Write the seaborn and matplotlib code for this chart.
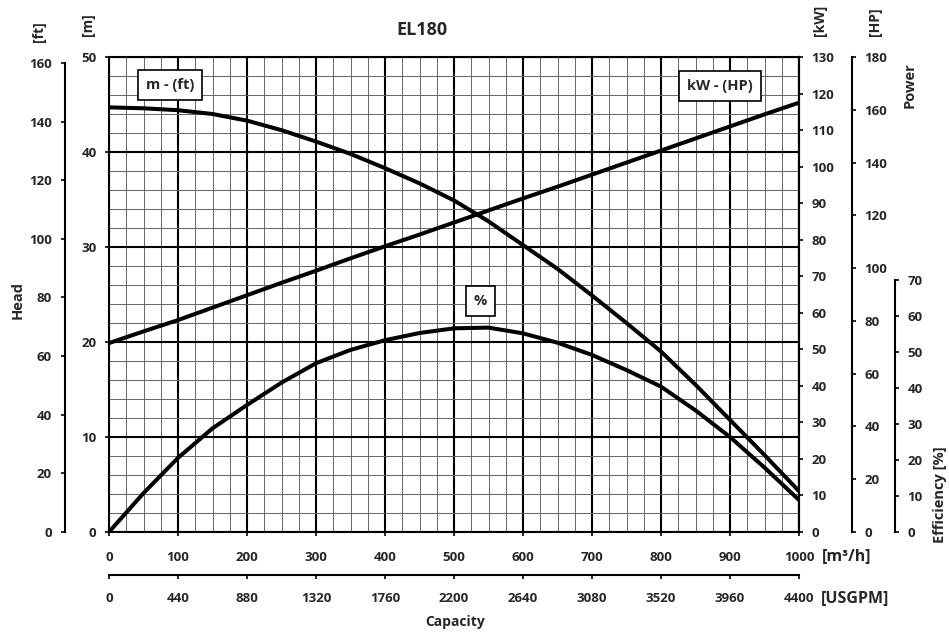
import numpy as np
import pandas as pd
import matplotlib
matplotlib.use("Agg")
import matplotlib.pyplot as plt
import seaborn as sns

# values (capacity in m3/h)
flow = [0, 50, 100, 150, 200, 250, 300, 350, 400, 450, 500,
        550, 600, 650, 700, 750, 800, 850, 900, 950, 1000]
head_m = [44.7, 44.6, 44.4, 44.0, 43.3, 42.3, 41.1, 39.8, 38.3, 36.7, 34.9,
          32.7, 30.2, 27.7, 24.9, 22.0, 19.0, 15.5, 11.8, 8.1, 4.3]
power_kw = [51.7, 54.9, 58.0, 61.4, 64.8, 68.2, 71.5, 74.9, 78.2, 81.4, 84.7,
            88.0, 91.3, 94.5, 97.8, 101.1, 104.4, 107.7, 111.0, 114.3, 117.5]
eff_pct = [0, 10.8, 20.6, 28.8, 35.3, 41.5, 46.9, 50.6, 53.3, 55.3, 56.6,
           56.8, 55.2, 52.6, 49.2, 45.0, 40.4, 33.8, 26.4, 17.9, 8.9]

m3h_ticks = [0, 100, 200, 300, 400, 500, 600, 700, 800, 900, 1000]
gpm_ticks = [0, 440, 880, 1320, 1760, 2200, 2640, 3080, 3520, 3960, 4400]
m_ticks = [0, 10, 20, 30, 40, 50]
ft_ticks = [0, 20, 40, 60, 80, 100, 120, 140, 160]
kw_ticks = list(range(0, 131, 10))
hp_ticks = list(range(0, 181, 20))
eff_ticks = list(range(0, 71, 10))

sns.set_style("white")
plt.rcParams["font.family"] = ["Open Sans", "DejaVu Sans"]
plt.rcParams["font.weight"] = "bold"
plt.rcParams["font.size"] = 9.5

W, H = 949, 634
fig = plt.figure(figsize=(W / 100, H / 100), dpi=100)
ax = fig.add_axes([109 / W, 1 - 532 / H, 690 / W, 475 / H])

def fx(px):
    return px / W

def fy(py):
    return 1 - py / H

# main head axis (m)
ax.set_xlim(0, 1000)
ax.set_ylim(0, 50)
ax.set_xticks(m3h_ticks)
ax.set_xticks(np.arange(0, 1001, 25), minor=True)
ax.set_yticks(m_ticks)
ax.set_yticks(np.arange(0, 51, 2), minor=True)
ax.grid(which="major", color="black", lw=1.5)
ax.grid(which="minor", color="#666666", lw=0.7)
ax.set_axisbelow(True)
ax.tick_params(axis="x", which="major", length=3, width=1.4, pad=11, labelsize=9.5)
ax.tick_params(axis="y", which="major", length=3, width=1.4, pad=6, labelsize=9.5, left=True)
ax.tick_params(which="minor", length=0)
for s in ax.spines.values():
    s.set_linewidth(1.5)
    s.set_color("black")

sns.lineplot(x=flow, y=head_m, ax=ax, color="black", linewidth=2.9)

# feet axis on the far left
ax_ft = ax.twinx()
ax_ft.yaxis.set_ticks_position("left")
ax_ft.yaxis.set_label_position("left")
ax_ft.spines["left"].set_position(("outward", 32))
ax_ft.spines["left"].set_bounds(0, 160)
for k in ["right", "top", "bottom"]:
    ax_ft.spines[k].set_visible(False)
ax_ft.spines["left"].set_linewidth(1.5)
ax_ft.spines["left"].set_color("black")
ax_ft.set_ylim(0, 162)
ax_ft.set_yticks(ft_ticks)
ax_ft.tick_params(axis="y", length=3, width=1.4, pad=6, labelsize=9.5)

# power kW
ax_kw = ax.twinx()
ax_kw.set_ylim(0, 130)
ax_kw.set_yticks(kw_ticks)
for k in ["left", "top", "bottom"]:
    ax_kw.spines[k].set_visible(False)
ax_kw.spines["right"].set_linewidth(1.5)
ax_kw.spines["right"].set_color("black")
ax_kw.tick_params(axis="y", length=3, width=1.4, pad=6, labelsize=9.5, right=True)
sns.lineplot(x=flow, y=power_kw, ax=ax_kw, color="black", linewidth=2.9)

# power HP
ax_hp = ax.twinx()
ax_hp.spines["right"].set_position(("outward", 38))
ax_hp.set_ylim(0, 180)
ax_hp.set_yticks(hp_ticks)
for k in ["left", "top", "bottom"]:
    ax_hp.spines[k].set_visible(False)
ax_hp.spines["right"].set_linewidth(1.5)
ax_hp.spines["right"].set_color("black")
ax_hp.tick_params(axis="y", length=3, width=1.4, pad=6, labelsize=9.5, right=True)

# efficiency
ax_eff = ax.twinx()
ax_eff.spines["right"].set_position(("outward", 69))
ax_eff.set_ylim(0, 132)
ax_eff.set_yticks(eff_ticks)
ax_eff.spines["right"].set_bounds(0, 70)
for k in ["left", "top", "bottom"]:
    ax_eff.spines[k].set_visible(False)
ax_eff.spines["right"].set_linewidth(1.5)
ax_eff.spines["right"].set_color("black")
ax_eff.tick_params(axis="y", length=3, width=1.4, pad=6, labelsize=9.5, right=True)
sns.lineplot(x=flow, y=eff_pct, ax=ax_eff, color="black", linewidth=2.9)

for a in [ax_kw, ax_hp, ax_eff, ax_ft]:
    a.set_ylabel("")
    a.grid(False)

# USGPM axis below
ax_g = ax.twiny()
ax_g.xaxis.set_ticks_position("bottom")
ax_g.xaxis.set_label_position("bottom")
ax_g.spines["bottom"].set_position(("outward", 31))
for k in ["left", "top", "right"]:
    ax_g.spines[k].set_visible(False)
ax_g.spines["bottom"].set_linewidth(1.5)
ax_g.spines["bottom"].set_color("black")
ax_g.set_xlim(0, 4400)
ax_g.set_xticks(gpm_ticks)
ax_g.tick_params(axis="x", length=3, width=1.4, pad=9, labelsize=9.5, bottom=True)
ax_g.grid(False)

# curve tags
box = dict(boxstyle="square,pad=0.55", fc="white", ec="black", lw=1.2)
ax.text(0.088, 0.941, "m - (ft)", transform=ax.transAxes, ha="center", va="center",
        fontsize=10.5, fontweight="bold", bbox=box, zorder=5)
ax.text(0.886, 0.939, "kW - (HP)", transform=ax.transAxes, ha="center", va="center",
        fontsize=10.5, fontweight="bold", bbox=box, zorder=5)
ax.text(0.538, 0.486, "%", transform=ax.transAxes, ha="center", va="center",
        fontsize=10.5, fontweight="bold", bbox=box, zorder=5)

# titles and unit labels
fig.text(fx(422), fy(30), "EL180", ha="center", va="center", fontsize=13, fontweight="bold")
fig.text(fx(39), fy(32), "[ft]", rotation=90, ha="center", va="center", fontsize=10)
fig.text(fx(88), fy(25), "[m]", rotation=90, ha="center", va="center", fontsize=10)
fig.text(fx(820), fy(20), "[kW]", rotation=90, ha="center", va="center", fontsize=10)
fig.text(fx(875), fy(22), "[HP]", rotation=90, ha="center", va="center", fontsize=10)
fig.text(fx(910), fy(85), "Power", rotation=90, ha="center", va="center", fontsize=10.5)
fig.text(fx(940), fy(495), "Efficiency [%]", rotation=90, ha="center", va="center", fontsize=10.5)
fig.text(fx(18), fy(300), "Head", rotation=90, ha="center", va="center", fontsize=10.5)
fig.text(fx(822), fy(556), "[m\u00b3/h]", ha="left", va="center", fontsize=11.5)
fig.text(fx(821), fy(598), "[USGPM]", ha="left", va="center", fontsize=11.5)
fig.text(fx(455), fy(622), "Capacity", ha="center", va="center", fontsize=10)

fig.savefig("out.png", dpi=100)
